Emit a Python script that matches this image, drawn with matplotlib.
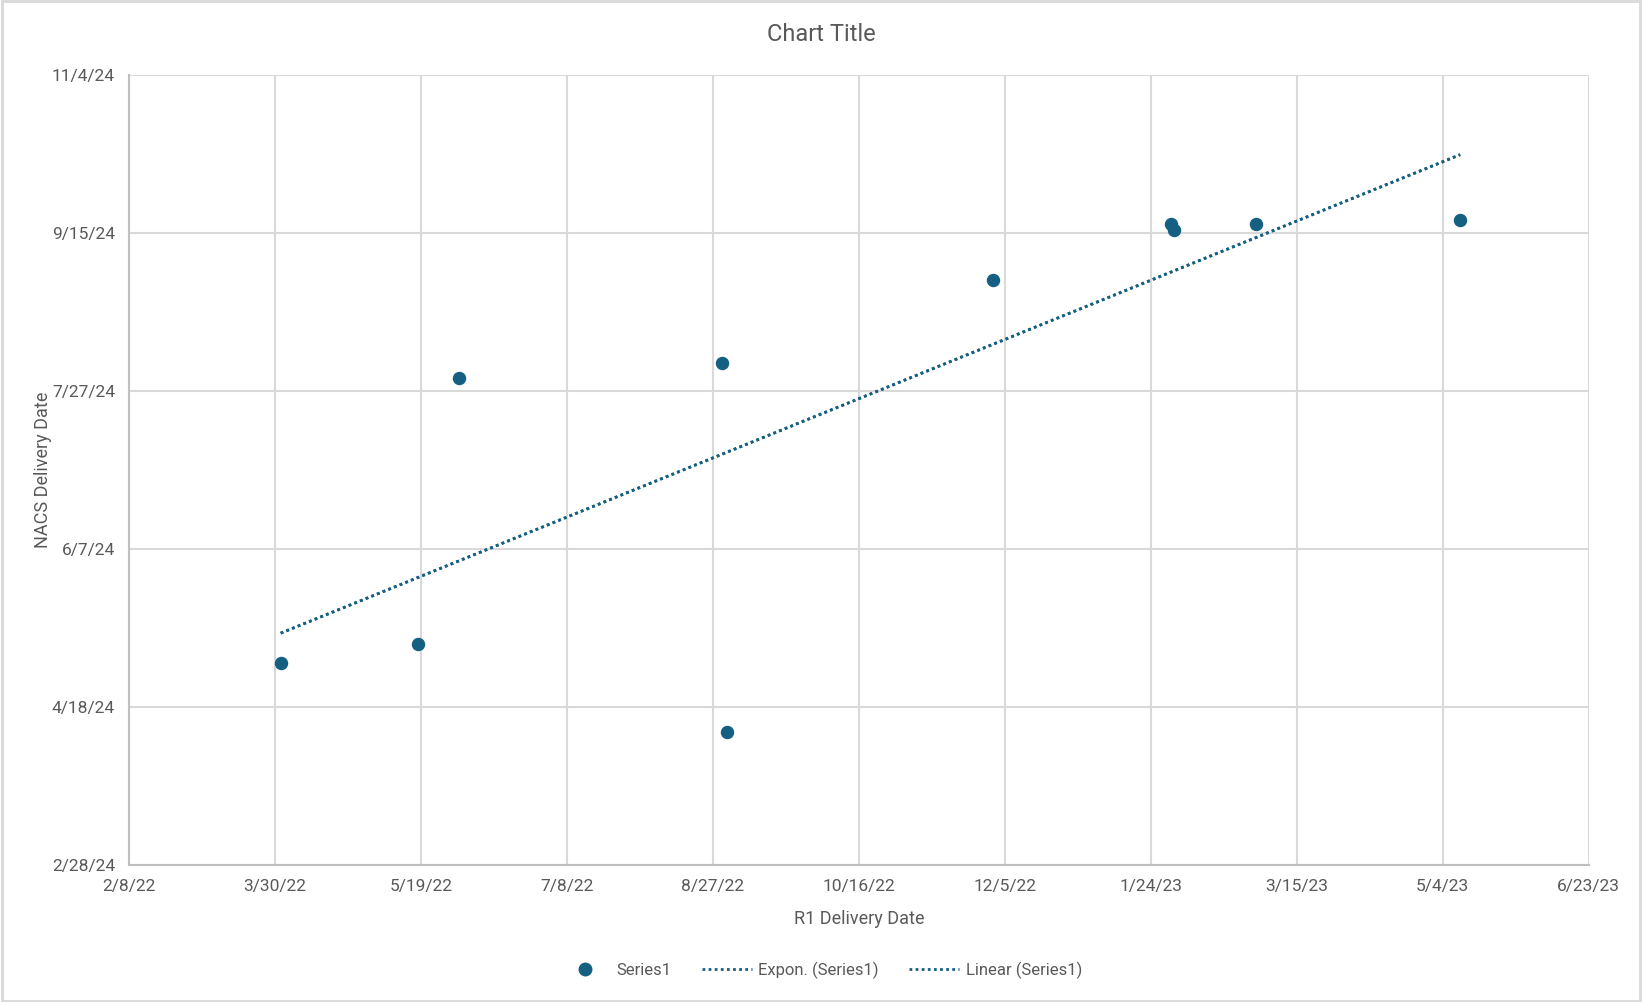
# Scatter of R1 vs NACS delivery dates, with expon. and linear trendlines (Excel look)
import numpy as np
import pandas as pd
import matplotlib
matplotlib.use("Agg")
import matplotlib.pyplot as plt
import matplotlib.dates as mdates
from matplotlib.lines import Line2D
from matplotlib.patches import Rectangle

# Data
r1_dates = ["2022-04-01", "2022-05-18", "2022-06-01", "2022-08-30", "2022-09-01",
            "2022-12-01", "2023-01-31", "2023-02-01", "2023-03-01", "2023-05-10"]
nacs_dates = ["2024-05-02", "2024-05-08", "2024-07-31", "2024-08-05", "2024-04-10",
              "2024-08-31", "2024-09-18", "2024-09-16", "2024-09-18", "2024-09-19"]

x_ticks = ["2/8/22", "3/30/22", "5/19/22", "7/8/22", "8/27/22", "10/16/22",
           "12/5/22", "1/24/23", "3/15/23", "5/4/23", "6/23/23"]
y_ticks = ["2/28/24", "4/18/24", "6/7/24", "7/27/24", "9/15/24", "11/4/24"]

main_color = "#156082"
text_color = "#595959"
grid_color = "#d9d9d9"

plt.rcParams['font.family'] = ['Roboto', 'DejaVu Sans']

x = mdates.date2num(pd.to_datetime(r1_dates))
y = mdates.date2num(pd.to_datetime(nacs_dates))
xt = mdates.date2num(pd.to_datetime(x_ticks, format="%m/%d/%y"))
yt = mdates.date2num(pd.to_datetime(y_ticks, format="%m/%d/%y"))

fig = plt.figure(figsize=(16.42, 10.02), dpi=100)
ax = fig.add_axes([0.0785, 0.137, 0.889, 0.788])

ax.scatter(x, y, s=75, color=main_color, zorder=3)

# trendlines over the data range
xs = np.linspace(x.min(), x.max(), 200)
# Excel uses serial numbers (days since 1899-12-30)
off = mdates.date2num(pd.Timestamp("1899-12-30"))
b, a = np.polyfit(x - off, np.log(y - off), 1)
ax.plot(xs, np.exp(a + b * (xs - off)) + off, color=main_color, lw=2, ls=(0, (1, 1.2)), zorder=2)
m, c = np.polyfit(x, y, 1)
ax.plot(xs, m * xs + c, color=main_color, lw=2, ls=(0, (1, 1.2)), zorder=2)

ax.set_xlim(xt[0], xt[-1])
ax.set_ylim(yt[0], yt[-1])
ax.set_xticks(xt)
ax.set_xticklabels(x_ticks)
ax.set_yticks(yt)
ax.set_yticklabels(y_ticks)
ax.tick_params(length=0, labelsize=12.5, colors=text_color, pad=10)
ax.grid(True, color=grid_color, lw=1.5)
ax.set_axisbelow(True)
for side in ["top", "right"]:
    ax.spines[side].set_visible(False)
for side in ["left", "bottom"]:
    ax.spines[side].set_color("#bfbfbf")
    ax.spines[side].set_linewidth(1.5)

ax.set_xlabel("R1 Delivery Date", fontsize=13, color=text_color, labelpad=12)
ax.set_ylabel("NACS Delivery Date", fontsize=13, color=text_color, labelpad=0)
fig.text(0.5, 0.966, "Chart Title", ha="center", va="center", fontsize=17, color=text_color)

handles = [
    Line2D([], [], ls="none", marker="o", ms=9, color=main_color),
    Line2D([], [], color=main_color, lw=2, ls=(0, (1, 1.2))),
    Line2D([], [], color=main_color, lw=2, ls=(0, (1, 1.2))),
]
labels = ["Series1", "Expon. (Series1)", "Linear (Series1)"]
fig.legend(handles, labels, loc="center", bbox_to_anchor=(0.5, 0.032), ncol=3, frameon=False,
           fontsize=12, labelcolor=text_color, handlelength=3.0, handletextpad=0.4,
           columnspacing=1.8)

fig.patches.append(Rectangle((0.001, 0.001), 0.998, 0.998, transform=fig.transFigure,
                             fill=False, ec="#d9d9d9", lw=2))

plt.savefig("out.png", dpi=100)
